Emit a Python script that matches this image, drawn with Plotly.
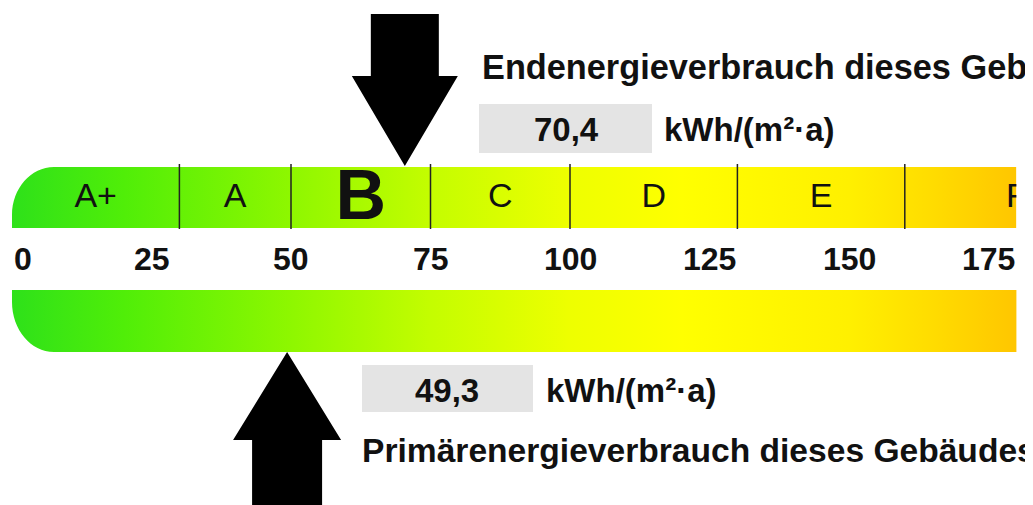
import plotly.graph_objects as go

# ---------------- data ----------------
class_labels = ["A+", "A", "B", "C", "D", "E", "F"]
class_bounds = [0, 30, 50, 75, 100, 130, 160, 200]
scale_max = 180
tick_values = [0, 25, 50, 75, 100, 125, 150, 175]
tick_labels = ["0", "25", "50", "75", "100", "125", "150", "175"]
end_energy = 70.4
primary_energy = 49.3
end_energy_text = "70,4"
primary_energy_text = "49,3"
unit_text = "kWh/(m²·a)"
end_title = "Endenergieverbrauch dieses Gebäudes"
primary_title = "Primärenergieverbrauch dieses Gebäudes"
gradient_values = [0, 20, 50, 75, 100, 120, 150, 165, 180]
gradient_colors = ["#2ee11a", "#50ee08", "#8ef700", "#c4fd00", "#eeff00",
                   "#ffff00", "#fff000", "#ffdc00", "#ffc600"]

# ---------------- layout geometry (pixels) ----------------
W, H = 1033, 505
OFF = 8            # page body margin compensation
PX = 5.58          # pixels per kWh unit
X0PX = 12 - OFF    # pixel position of 0
xr = [-X0PX / PX, (W - X0PX) / PX]
FONT = "Liberation Sans, Arial, sans-serif"


def Y(v):
    return v - OFF


def XP(px):
    return (px - OFF) / W


top_bar = (Y(167), Y(228))
bot_bar = (Y(290), Y(352))
cs = [[v / scale_max, c] for v, c in zip(gradient_values, gradient_colors)]

fig = go.Figure()

for (y0, y1) in (top_bar, bot_bar):
    fig.add_trace(go.Scatter(
        x=[0, scale_max, scale_max, 0, 0], y=[y0, y0, y1, y1, y0],
        mode="lines", line=dict(width=0), fill="toself",
        fillgradient=dict(type="horizontal", colorscale=cs, start=0, stop=scale_max),
        hoverinfo="skip", showlegend=False))

# class letters
mids = [(class_bounds[i] + class_bounds[i + 1]) / 2 for i in range(len(class_labels))]
cur = [i for i in range(len(class_labels))
       if class_bounds[i] <= end_energy < class_bounds[i + 1]][0]
texts = [("<b>%s</b>" % l) if i == cur else l for i, l in enumerate(class_labels)]
sizes = [70 if i == cur else 34 for i in range(len(class_labels))]
ys = [Y(201) if i == cur else Y(198) for i in range(len(class_labels))]
fig.add_trace(go.Scatter(
    x=mids, y=ys, mode="text", text=texts,
    textposition="middle center",
    textfont=dict(family=FONT, size=sizes, color="#111"),
    hoverinfo="skip", showlegend=False, cliponaxis=False))

shapes = []
k = 0.5523
# rounded corner masks
rx = 42 / PX
ry = 48
y0 = top_bar[0]
shapes.append(dict(type="path", layer="above", fillcolor="white", line=dict(width=0),
                   path=f"M -1,{y0-6} L {rx},{y0-6} L {rx},{y0} "
                        f"C {rx*(1-k)},{y0} 0,{y0+ry*(1-k)} 0,{y0+ry} "
                        f"L -1,{y0+ry} Z"))
y1 = bot_bar[1]
ry2 = 50
shapes.append(dict(type="path", layer="above", fillcolor="white", line=dict(width=0),
                   path=f"M -1,{y1+6} L {rx},{y1+6} L {rx},{y1} "
                        f"C {rx*(1-k)},{y1} 0,{y1-ry2*(1-k)} 0,{y1-ry2} "
                        f"L -1,{y1-ry2} Z"))
# right edge mask (clips the last class letter at the end of the scale)
shapes.append(dict(type="rect", layer="above", x0=scale_max, x1=xr[1] + 5,
                   y0=Y(150), y1=Y(240), fillcolor="white", line=dict(width=0)))
# dividers
for b in class_bounds[1:-1]:
    shapes.append(dict(type="line", layer="above", x0=b, x1=b, y0=Y(164), y1=Y(229),
                       line=dict(color="#222", width=1.5)))


# arrows
def arrow(v, y_tail, y_base, y_tip, sw_px, hw_px):
    sw, hw = sw_px / PX, hw_px / PX
    return dict(type="path", layer="above", fillcolor="black", line=dict(width=0),
                path=f"M {v-sw},{y_tail} L {v+sw},{y_tail} L {v+sw},{y_base} "
                     f"L {v+hw},{y_base} L {v},{y_tip} L {v-hw},{y_base} "
                     f"L {v-sw},{y_base} Z")


shapes.append(arrow(end_energy, Y(14), Y(76), Y(166), 34, 53))
shapes.append(arrow(primary_energy, Y(530), Y(440), Y(352), 35, 54))

# grey value boxes
shapes.append(dict(type="rect", layer="below", xref="paper",
                   x0=XP(479), x1=XP(652), y0=Y(104), y1=Y(153),
                   fillcolor="#e4e4e4", line=dict(width=0)))
shapes.append(dict(type="rect", layer="below", xref="paper",
                   x0=XP(362), x1=XP(533), y0=Y(365), y1=Y(412),
                   fillcolor="#e4e4e4", line=dict(width=0)))

ann = []
for i, (tv, tl) in enumerate(zip(tick_values, tick_labels)):
    ann.append(dict(x=tv, y=Y(259), xref="x", yref="y", text=f"<b>{tl}</b>",
                    showarrow=False, xanchor="left" if i == 0 else "center",
                    yanchor="middle", font=dict(family=FONT, size=32, color="#111")))


def txt(xpx, y, t, anchor="left", size=33):
    return dict(x=XP(xpx), y=Y(y), xref="paper", yref="y", text=f"<b>{t}</b>",
                showarrow=False, xanchor=anchor, yanchor="middle",
                font=dict(family=FONT, size=size, color="#111"))


ann.append(txt(480, 67, end_title, size=34.3))
ann.append(txt(566, 129, end_energy_text, "center"))
ann.append(txt(662, 129, unit_text))
ann.append(txt(447, 390, primary_energy_text, "center"))
ann.append(txt(544, 390, unit_text))
ann.append(txt(360, 450, primary_title, size=33.6))

fig.update_layout(
    width=W, height=H, autosize=False,
    margin=dict(l=0, r=0, t=0, b=0),
    paper_bgcolor="white", plot_bgcolor="white",
    xaxis=dict(range=xr, visible=False, fixedrange=True),
    yaxis=dict(range=[H, 0], visible=False, fixedrange=True),
    shapes=shapes, annotations=ann, hovermode=False, showlegend=False)

fig.write_html("out.html", config={"displayModeBar": False})
